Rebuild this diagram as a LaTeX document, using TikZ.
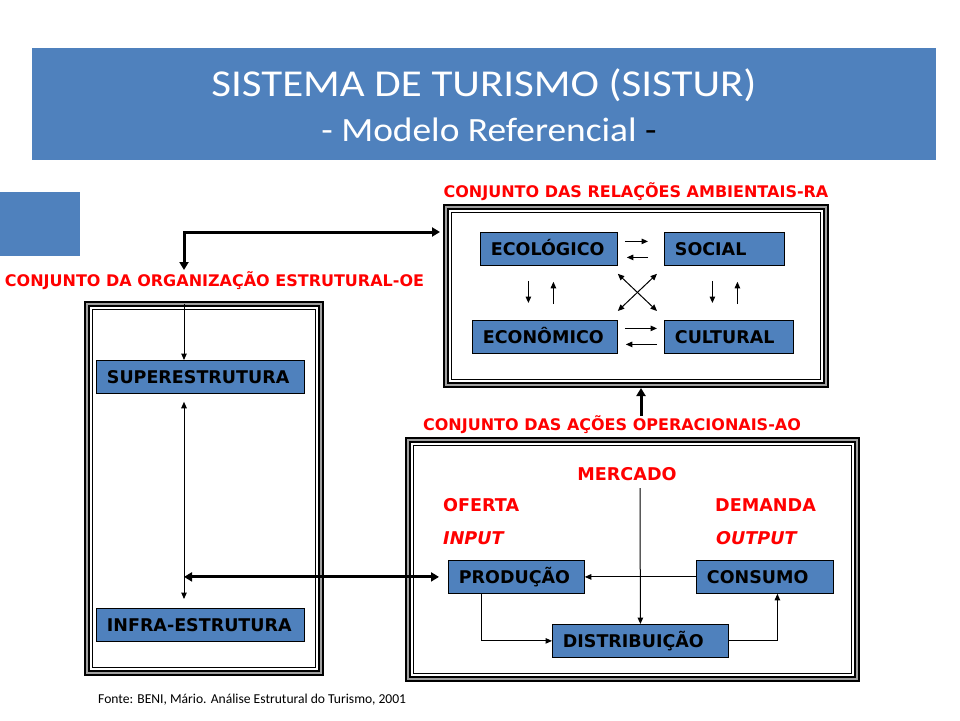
\documentclass[tikz,border=0pt]{standalone}
\usepackage{fontspec}
\setmainfont{DejaVu Sans}
\newfontfamily\calfont{Carlito}
\usetikzlibrary{arrows.meta}
\definecolor{boxblue}{HTML}{4F81BD}
\definecolor{lblred}{HTML}{FF0000}
\definecolor{bandgray}{HTML}{A0A0A0}
\tikzset{
  bbox/.style={fill=boxblue, draw=black, line width=0.8pt, anchor=north west,
    inner xsep=10.5pt, inner ysep=0pt, minimum height=33pt, align=left,
    text height=13pt, text depth=0pt,
    font=\fontsize{17.5}{20}\selectfont\bfseries},
  frm/.style={draw=black, line width=2pt, double=bandgray, double distance=2pt,
    anchor=north west, outer sep=0pt, inner sep=0pt},
  redlbl/.style={text=lblred, font=\fontsize{16}{18}\selectfont\bfseries, inner sep=0pt, anchor=base},
  redbig/.style={text=lblred, font=\fontsize{17.6}{20}\selectfont\bfseries, inner sep=0pt, anchor=base},
  tarrow/.style={line width=1pt, -{Triangle[length=6.5pt,width=5.5pt]}},
  tdarrow/.style={line width=1pt, {Triangle[length=6.5pt,width=5.5pt]}-{Triangle[length=6.5pt,width=5.5pt]}},
  karrow/.style={line width=3pt, -{Triangle[length=8pt,width=9pt]}},
  kdarrow/.style={line width=3pt, {Triangle[length=8pt,width=9pt]}-{Triangle[length=8pt,width=9pt]}},
}
\begin{document}
\begin{tikzpicture}[x=1pt,y=-1pt]
\useasboundingbox (0,0) rectangle (960,720);
\fill[white] (0,0) rectangle (960,720);

% title bar
\node[fill=boxblue, minimum width=904pt, minimum height=112pt, anchor=north west, inner sep=0pt] (bar) at (32,48) {};
\node[text=white, font=\calfont\fontsize{38}{42}\selectfont, inner sep=0pt, anchor=base] (title) at (484,96) {\scalebox{1.13}[1]{SISTEMA DE TURISMO (SISTUR)}};
\node[text=white, font=\calfont\fontsize{34}{38}\selectfont, inner sep=0pt, anchor=base] (subtitle) at (489,141) {\scalebox{1.1}[1]{- Modelo Referencial \textcolor{black}{-}}};
\node[fill=boxblue, minimum width=80pt, minimum height=64pt, anchor=north west, inner sep=0pt] (sq) at (0,192) {};

% frames
\node[frm, minimum width=380pt, minimum height=178pt] (ra) at (446,207) {};
\node[frm, minimum width=234pt, minimum height=369pt] (oe) at (87,304) {};
\node[frm, minimum width=449pt, minimum height=239pt] (ao) at (408,440) {};
\draw[line width=1pt] ([shift={(5.5,5.5)}]ra.north west) rectangle ([shift={(-5.5,-5.5)}]ra.south east);
\draw[line width=1pt] ([shift={(5.5,5.5)}]oe.north west) rectangle ([shift={(-5.5,-5.5)}]oe.south east);
\draw[line width=1pt] ([shift={(5.5,5.5)}]ao.north west) rectangle ([shift={(-5.5,-5.5)}]ao.south east);

% frame labels
\node[redlbl] (ralbl) at (636,197) {CONJUNTO DAS RELAÇÕES AMBIENTAIS-RA};
\node[redlbl] (oelbl) at (214.5,286) {CONJUNTO DA ORGANIZAÇÃO ESTRUTURAL-OE};
\node[redlbl] (aolbl) at (612,430.5) {CONJUNTO DAS AÇÕES OPERACIONAIS-AO};

% RA boxes
\node[bbox, text width=116pt] (eco) at (480,232) {\mbox{ECOLÓGICO}};
\node[bbox, text width=99pt] (soc) at (664,232) {\mbox{SOCIAL}};
\node[bbox, text width=124pt] (econ) at (472,320) {\mbox{ECONÔMICO}};
\node[bbox, text width=108pt] (cult) at (664,320) {\mbox{CULTURAL}};

% OE boxes
\node[bbox, text width=187pt] (sup) at (96,360) {\mbox{SUPERESTRUTURA}};
\node[bbox, text width=187pt] (inf) at (96,608) {\mbox{INFRA-ESTRUTURA}};

% AO boxes and labels
\node[bbox, text width=115pt] (prod) at (448,560) {\mbox{PRODUÇÃO}};
\node[bbox, text width=116pt] (cons) at (696,560) {\mbox{CONSUMO}};
\node[bbox, text width=155pt] (dist) at (552,624) {\mbox{DISTRIBUIÇÃO}};
\node[redbig] (merc) at (627,480) {MERCADO};
\node[redbig, anchor=base west] (ofer) at (443,511.5) {OFERTA};
\node[redbig, anchor=base west] (dem) at (715,511.5) {DEMANDA};
\node[redbig, anchor=base west, font=\fontsize{17.6}{20}\selectfont\bfseries\itshape] (inp) at (443,544.5) {INPUT};
\node[redbig, anchor=base west, font=\fontsize{17.6}{20}\selectfont\bfseries\itshape] (outp) at (716,544.5) {OUTPUT};

% source
\node[anchor=base west, inner sep=0pt, font=\calfont\fontsize{13.6}{16}\selectfont] (fonte) at (98,703) {Fonte: BENI, Mário. Análise Estrutural do Turismo, 2001};

% coordinates
\coordinate (oein) at (184,270);
\coordinate (raL) at (440,232);
\coordinate (aoTop) at (641,416);
\coordinate (mtop) at (640,488);

% thick connectors
\draw[kdarrow] (oein) |- (raL);
\draw[kdarrow, shorten >=9pt] (oein |- prod.west) -- (prod.west);
\draw[karrow, shorten >=3pt] (aoTop) -- (aoTop |- ra.south);

% OE thin connectors
\draw[tarrow] (oein |- oe.north) -- (oein |- sup.north);
\draw[tdarrow, shorten <=8pt, shorten >=9pt] (oein |- sup.south) -- (oein |- inf.north);

% AO thin connectors
\draw[tarrow] (mtop) -- (dist.north);
\draw[tarrow] (cons.west) -- (prod.east);
\draw[tarrow] ([xshift=-35pt]prod.south) |- (dist.west);
\draw[tarrow] (dist.east) -| ([xshift=12.5pt]cons.south);

% RA thin connectors
\draw[tarrow] ([shift={(7,-7.5)}]eco.east) -- ([shift={(-16,-7.5)}]soc.west);
\draw[tarrow] ([shift={(-16,8.5)}]soc.west) -- ([shift={(9,8.5)}]eco.east);
\draw[tarrow] ([shift={(7,-8.5)}]econ.east) -- ([shift={(-7,-8.5)}]cult.west);
\draw[tarrow] ([shift={(-7,7.5)}]cult.west) -- ([shift={(8,7.5)}]econ.east);
\draw[tarrow] ([shift={(-20.5,15)}]eco.south) -- ([shift={(-16.5,-17)}]econ.north);
\draw[tarrow] ([shift={(8.5,-16)}]econ.north) -- ([shift={(4.5,16)}]eco.south);
\draw[tarrow] ([shift={(-12,15)}]soc.south) -- ([shift={(-16.5,-17)}]cult.north);
\draw[tarrow] ([shift={(8.5,-16)}]cult.north) -- ([shift={(13,16)}]soc.south);
\draw[tdarrow] ([shift={(0,8)}]eco.south east) -- ([shift={(-7,-9)}]cult.north west);
\draw[tdarrow] ([shift={(-7,8)}]soc.south west) -- ([shift={(0,-9)}]econ.north east);
\end{tikzpicture}
\end{document}
